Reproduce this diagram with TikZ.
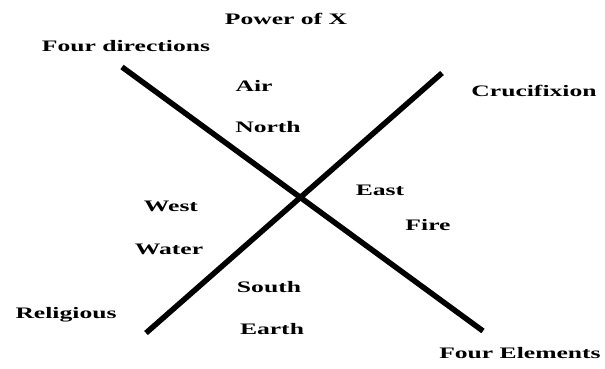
\documentclass[tikz,border=0pt]{standalone}
\usepackage{fontspec}
\newfontfamily\lblfont{Liberation Serif}[FakeStretch=1.6]
\usetikzlibrary{positioning}

\begin{document}
\begin{tikzpicture}[
		x=1pt, y=-1pt,
		lbl/.style={font=\lblfont\bfseries\fontsize{16}{18}\selectfont, inner sep=0pt},
		bar/.style={line width=5.5pt, black},
		]
		\useasboundingbox (0,0) rectangle (605,368);
		% ends of the two bars
		\coordinate (NW) at (122,67);
		\coordinate (SE) at (483,331);
		\coordinate (SW) at (146,333);
		\coordinate (NE) at (442,73);
		
		% the cross
		\draw[bar] (NW) -- (SE);
		\draw[bar] (SW) -- (NE);
		
		% outer labels
		\node[lbl] (power) at (286,19) {Power of X};
		\node[lbl] (fourdir) at (126,46) {Four directions};
		\node[lbl] (cruci) at (534,91) {Crucifixion};
		\node[lbl] (relig) at (66,315) {Religious};
		\node[lbl] (fourel) at (520,353) {Four Elements};
		
		% quarters
		\node[lbl] (air) at (254,86) {Air};
		\node[lbl] (north) at (268,127) {North};
		\node[lbl] (east) at (380,190) {East};
		\node[lbl] (fire) at (428,225) {Fire};
		\node[lbl] (west) at (171,206) {West};
		\node[lbl] (water) at (169,249) {Water};
		\node[lbl] (south) at (269,287) {South};
		\node[lbl] (earth) at (272,329) {Earth};
	\end{tikzpicture}
\end{document}
